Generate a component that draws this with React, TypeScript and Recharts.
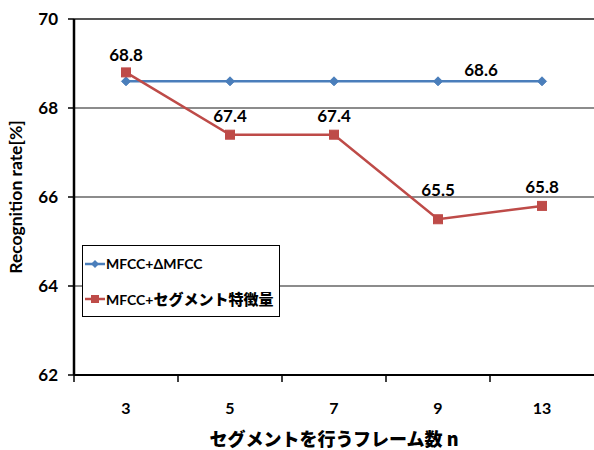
import React from 'react';
import {
  LineChart,
  Line,
  XAxis,
  YAxis,
  CartesianGrid,
  Legend,
  LabelList,
  ReferenceLine,
} from 'recharts';

// Number of frames used for segmentation
const frames = ['3', '5', '7', '9', '13'];
// Recognition rate [%] per feature set
const mfccDelta = [68.6, 68.6, 68.6, 68.6, 68.6];
const mfccSegment = [68.8, 67.4, 67.4, 65.5, 65.8];
const yTicks = [62, 64, 66, 68, 70];

const seriesNames = {
  delta: 'MFCC+ΔMFCC',
  segment: 'MFCC+セグメント特徴量',
};

const BLUE = '#4A7EBB';
const RED = '#BE4B48';
const FONT = 'Lato, "Noto Sans CJK JP", sans-serif';
const JP_FONT = '"Noto Sans CJK JP", Lato, sans-serif';

const data = frames.map((f, i) => ({
  frame: f,
  delta: mfccDelta[i],
  segment: mfccSegment[i],
}));

// Category ticks: label in the middle of the band, tick mark on the band boundary
const XTick = (props: any) => {
  const { x, y, payload } = props;
  const half = payload?.offset ?? 0;
  return (
    <g>
      <line x1={x - half} x2={x - half} y1={y} y2={y + 7} stroke="#000" strokeWidth={1.5} />
      <text
        x={x}
        y={y + 39}
        textAnchor="middle"
        fontFamily={FONT}
        fontWeight={700}
        fontSize={16}
        fill="#000"
      >
        {payload.value}
      </text>
    </g>
  );
};

const Diamond = (props: any) => {
  const { cx, cy } = props;
  if (cx == null || cy == null) return null;
  const r = 4.5;
  return (
    <path
      d={`M${cx},${cy - r}L${cx + r},${cy}L${cx},${cy + r}L${cx - r},${cy}Z`}
      fill={BLUE}
      stroke={BLUE}
      strokeWidth={1}
    />
  );
};

const Square = (props: any) => {
  const { cx, cy } = props;
  if (cx == null || cy == null) return null;
  const r = 4.5;
  return <rect x={cx - r} y={cy - r} width={2 * r} height={2 * r} fill={RED} stroke={RED} />;
};

// Red series value labels, lifted above each marker
const segmentLift = [11, 13, 13, 23, 13];
const SegmentLabel = (props: any) => {
  const { x, y, value, index } = props;
  return (
    <text
      x={x}
      y={y - segmentLift[index]}
      textAnchor="middle"
      fontFamily={FONT}
      fontWeight={700}
      fontSize={17}
      fill="#000"
    >
      {value}
    </text>
  );
};

// Blue series: a single label, shown between the last two points
const DeltaLabel = (props: any) => {
  const { x, y, value, index } = props;
  if (index !== 3) return null;
  return (
    <text
      x={x + 43}
      y={y - 5}
      textAnchor="middle"
      fontFamily={FONT}
      fontWeight={700}
      fontSize={17}
      fill="#000"
    >
      {value}
    </text>
  );
};

const LegendBox = (props: any) => {
  const items = props.payload || [];
  return (
    <div
      style={{
        border: '1.5px solid #000',
        background: '#fff',
        width: 198,
        height: 72,
        boxSizing: 'border-box',
        paddingLeft: 2,
        display: 'flex',
        flexDirection: 'column',
        justifyContent: 'space-around',
      }}
    >
      {items.map((it: any) => {
        const isDelta = it.dataKey === 'delta';
        const color = isDelta ? BLUE : RED;
        return (
          <div key={it.dataKey} style={{ display: 'flex', alignItems: 'center', height: 22 }}>
            <svg width={20} height={12} style={{ marginRight: 1 }}>
              <line x1={0} x2={20} y1={6} y2={6} stroke={color} strokeWidth={2.5} />
              {isDelta ? (
                <path d="M10,2L14,6L10,10L6,6Z" fill={color} />
              ) : (
                <rect x={6} y={2} width={8} height={8} fill={color} />
              )}
            </svg>
            <span
              style={{
                fontFamily: FONT,
                fontWeight: 700,
                fontSize: 14,
                color: '#000',
                whiteSpace: 'nowrap',
              }}
            >
              {isDelta ? (
                seriesNames.delta
              ) : (
                <>
                  MFCC+
                  <span style={{ fontFamily: JP_FONT, fontWeight: 900, fontSize: 15 }}>
                    セグメント特徴量
                  </span>
                </>
              )}
            </span>
          </div>
        );
      })}
    </div>
  );
};

export default function App() {
  return (
    <div style={{ position: 'absolute', left: 0, top: 0, width: 594, height: 450, background: '#fff' }}>
      <LineChart
        width={594}
        height={450}
        data={data}
        margin={{ top: 19, right: 0, left: 0, bottom: 0 }}
      >
        <CartesianGrid vertical={false} stroke="#8c8c8c" strokeWidth={2} />
        <ReferenceLine y={70} stroke="#555" strokeWidth={2} />
        <XAxis
          dataKey="frame"
          scale="band"
          height={75}
          axisLine={{ stroke: '#000', strokeWidth: 2 }}
          tickLine={false}
          tickSize={0}
          tickMargin={0}
          tick={<XTick />}
          interval={0}
          label={{
            value: 'セグメントを行うフレーム数 n',
            position: 'insideBottom',
            offset: 4,
            style: { fontFamily: JP_FONT, fontWeight: 900, fontSize: 18, fill: '#000' },
          }}
        />
        <YAxis
          width={74}
          domain={[62, 70]}
          ticks={yTicks}
          interval={0}
          axisLine={{ stroke: '#000', strokeWidth: 2.5 }}
          tickLine={{ stroke: '#000', strokeWidth: 1.5 }}
          tickSize={6}
          tickMargin={10}
          tick={{ fontFamily: FONT, fontWeight: 700, fontSize: 17, fill: '#000' }}
          label={{
            value: 'Recognition rate[%]',
            angle: -90,
            position: 'insideLeft',
            offset: 16,
            style: { textAnchor: 'middle', fontFamily: FONT, fontWeight: 700, fontSize: 17.5, fill: '#000' },
          }}
        />
        <Legend
          layout="vertical"
          verticalAlign="middle"
          align="center"
          content={<LegendBox />}
          wrapperStyle={{ left: 82, top: 245, width: 'auto' }}
        />
        <Line
          dataKey="delta"
          name={seriesNames.delta}
          stroke={BLUE}
          strokeWidth={2.5}
          dot={<Diamond />}
          activeDot={false}
          isAnimationActive={false}
        >
          <LabelList dataKey="delta" content={<DeltaLabel />} />
        </Line>
        <Line
          dataKey="segment"
          name={seriesNames.segment}
          stroke={RED}
          strokeWidth={2.5}
          dot={<Square />}
          activeDot={false}
          isAnimationActive={false}
        >
          <LabelList dataKey="segment" content={<SegmentLabel />} />
        </Line>
      </LineChart>
    </div>
  );
}
